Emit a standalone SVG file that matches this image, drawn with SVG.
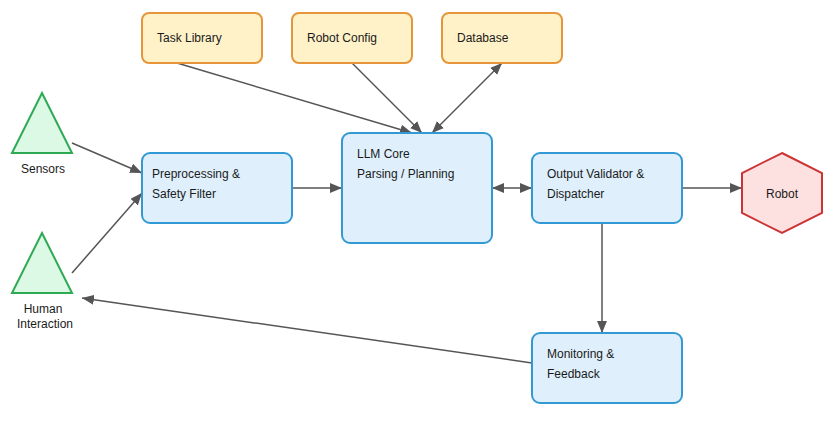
<svg xmlns="http://www.w3.org/2000/svg" width="836" height="421" viewBox="0 0 836 421">
<defs>
<marker id="ah" viewBox="0 0 12 10" refX="12" refY="5" markerWidth="12" markerHeight="10" markerUnits="userSpaceOnUse" orient="auto-start-reverse">
<path d="M0,0 L12,5 L0,10 z" fill="#555555"/>
</marker>
<style>
.blue{fill:#dff0fc;stroke:#3399d4;stroke-width:2}
.orange{fill:#fff2c8;stroke:#e6963a;stroke-width:2}
.green{fill:#dcf9e6;stroke:#2eaa55;stroke-width:2}
.red{fill:#fde0e0;stroke:#cc3333;stroke-width:2}
text{font-family:"Liberation Sans",Arial,sans-serif;font-size:12px;fill:#1a1a1a}
.c{text-anchor:middle}
.e{fill:none;stroke:#555555;stroke-width:1.5}
</style>
</defs>
<rect width="836" height="421" fill="#ffffff"/>
<g id="connectors">
<line class="e" x1="177" y1="63" x2="412" y2="133" marker-end="url(#ah)"/>
<line class="e" x1="352" y1="63" x2="422" y2="133" marker-end="url(#ah)"/>
<line class="e" x1="502" y1="63" x2="432" y2="133" marker-start="url(#ah)" marker-end="url(#ah)"/>
<line class="e" x1="72" y1="143" x2="142" y2="173" marker-end="url(#ah)"/>
<line class="e" x1="72" y1="273" x2="142" y2="193" marker-end="url(#ah)"/>
<line class="e" x1="292" y1="188" x2="342" y2="188" marker-end="url(#ah)"/>
<line class="e" x1="492" y1="188" x2="532" y2="188" marker-start="url(#ah)" marker-end="url(#ah)"/>
<line class="e" x1="682" y1="188" x2="742" y2="188" marker-end="url(#ah)"/>
<line class="e" x1="602" y1="223" x2="602" y2="333" marker-end="url(#ah)"/>
<line class="e" x1="532" y1="363" x2="82" y2="298" marker-end="url(#ah)"/>
</g>
<g id="task_library">
<rect class="orange" x="142" y="13" width="120" height="50" rx="7"/>
<text x="157" y="42">Task Library</text>
</g>
<g id="robot_config">
<rect class="orange" x="292" y="13" width="120" height="50" rx="7"/>
<text x="307" y="42">Robot Config</text>
</g>
<g id="database">
<rect class="orange" x="442" y="13" width="120" height="50" rx="7"/>
<text x="457" y="42">Database</text>
</g>
<g id="sensors">
<polygon class="green" points="42,93 72,153 12,153"/>
<text class="c" x="43" y="173">Sensors</text>
</g>
<g id="human_interaction">
<polygon class="green" points="42,233 72,293 12,293"/>
<text class="c" x="43" y="313">Human</text>
<text class="c" x="45" y="328">Interaction</text>
</g>
<g id="preprocessing">
<rect class="blue" x="142" y="153" width="150" height="70" rx="8"/>
<text x="152" y="178">Preprocessing &amp;</text>
<text x="152" y="198">Safety Filter</text>
</g>
<g id="llm_core">
<rect class="blue" x="342" y="133" width="150" height="110" rx="8"/>
<text x="357" y="158">LLM Core</text>
<text x="357" y="178">Parsing / Planning</text>
</g>
<g id="output_validator">
<rect class="blue" x="532" y="153" width="150" height="70" rx="8"/>
<text x="547" y="178">Output Validator &amp;</text>
<text x="547" y="198">Dispatcher</text>
</g>
<g id="robot">
<polygon class="red" points="782,153 822,173 822,213 782,233 742,213 742,173"/>
<text class="c" x="782" y="198">Robot</text>
</g>
<g id="monitoring">
<rect class="blue" x="532" y="333" width="150" height="70" rx="8"/>
<text x="547" y="358">Monitoring &amp;</text>
<text x="547" y="378">Feedback</text>
</g>
</svg>
